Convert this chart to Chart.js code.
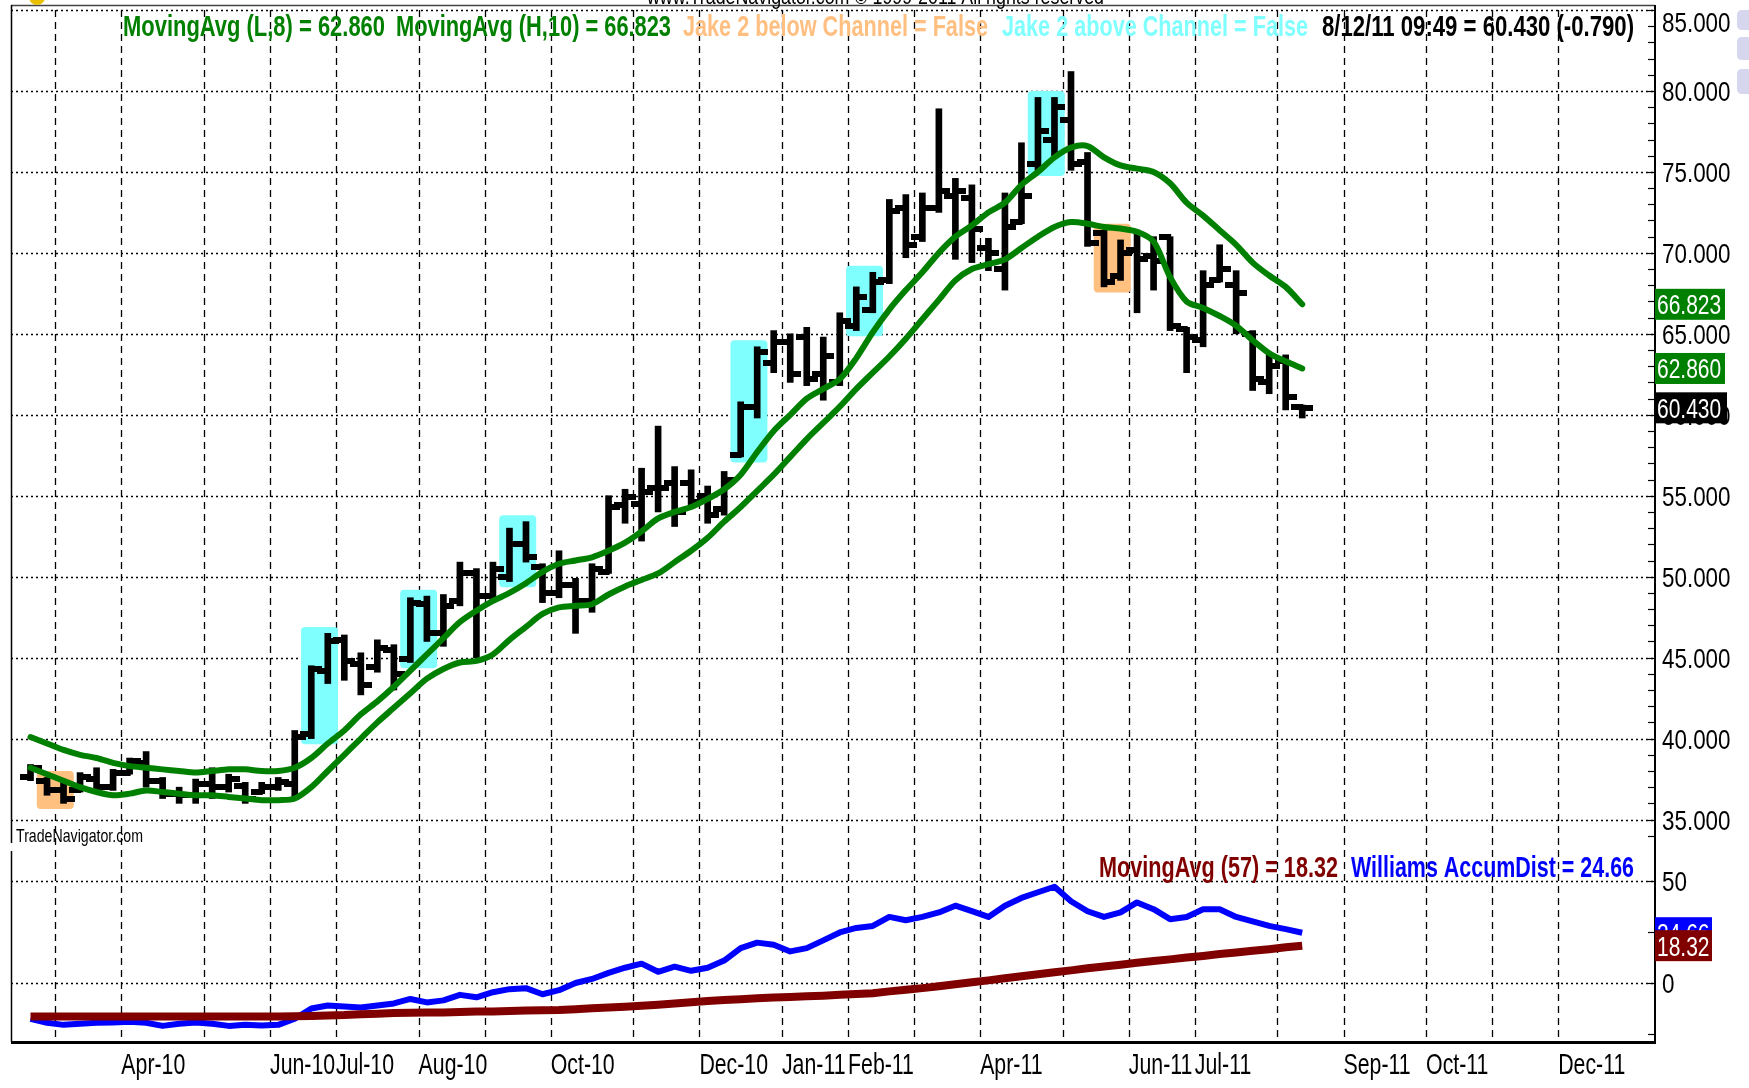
<!DOCTYPE html>
<html><head><meta charset="utf-8">
<script src="https://cdn.jsdelivr.net/npm/chart.js@4/dist/chart.umd.min.js"></script>
<style>html,body{margin:0;padding:0;background:#fff;overflow:hidden}</style>
</head><body>
<canvas id="c" width="1749" height="1088"></canvas>
<script>
// ---- DATA (weekly bars, 19 Feb 2010 .. 12 Aug 2011, x = week index) ----
const opens  = [37.6,37.4,36.8,36.8,37.5,37.0,37.9,38.5,37.4,36.6,36.5,37.2,37.0,37.1,36.7,37.0,37.2,40.3,44.2,46.1,44.6,44.4,45.5,44.9,48.3,46.5,48.5,50.2,48.8,50.0,52.0,50.6,49.0,49.5,48.5,50.3,54.4,54.5,55.5,55.8,55.8,55.0,54.2,57.5,60.5,63.2,64.5,64.8,62.5,62.0,65.5,66.5,68.3,72.8,71.0,72.8,73.5,73.4,70.3,69.0,71.9,75.5,77.0,78.2,75.6,71.2,68.6,70.2,69.8,71.0,65.3,64.6,68.3,68.0,65.0,62.0,63.3,60.5];
const highs  = [38.4,37.6,37.3,37.9,38.2,38.1,38.8,39.2,37.6,37.0,37.5,38.2,37.8,37.3,37.3,37.6,40.5,44.5,46.5,46.4,45.3,46.1,45.8,48.7,48.8,48.9,50.9,50.5,50.9,53.0,53.4,50.8,51.6,49.9,50.8,55.0,55.4,56.7,59.3,56.8,56.6,55.6,56.5,60.8,64.2,65.2,65.0,65.4,64.8,66.3,67.9,68.8,73.3,73.6,73.7,78.9,74.6,74.2,70.9,73.7,76.8,79.6,79.6,81.2,76.2,71.4,70.8,71.4,71.0,71.0,65.4,68.9,70.5,68.9,65.2,63.8,63.7,60.6];
const lows   = [37.4,36.5,36.0,36.7,36.7,36.8,37.8,37.0,36.3,36.0,36.0,36.3,36.7,36.0,36.6,36.8,36.4,40.0,43.4,43.6,42.7,44.1,43.0,44.7,46.0,45.7,48.2,45.0,48.5,49.7,50.9,48.4,48.7,46.5,47.8,50.2,53.3,52.2,54.0,53.1,54.4,53.3,53.8,57.4,59.8,62.6,62.0,61.8,60.9,61.8,65.2,66.3,68.1,69.7,70.7,72.5,69.6,69.4,68.9,67.7,71.8,75.1,76.0,75.1,70.4,67.9,68.3,66.3,67.7,65.2,62.6,64.2,68.2,65.0,61.5,61.3,60.3,59.8];
const closes = [38.2,36.8,36.3,37.6,37.0,37.9,38.6,37.4,36.6,36.5,37.2,37.0,37.5,36.3,37.0,37.3,40.1,44.3,46.0,44.8,43.3,45.6,44.0,48.4,46.5,48.2,50.2,48.8,50.5,52.0,51.2,49.0,49.5,48.5,50.5,54.3,54.9,55.2,55.5,54.0,54.6,53.8,56.0,60.5,63.9,64.5,62.5,62.2,63.6,65.8,67.3,68.2,72.6,70.5,72.8,73.8,73.8,71.5,70.0,71.6,73.5,77.5,79.0,75.5,70.6,68.2,70.0,69.6,69.5,65.5,64.8,68.0,69.0,67.5,62.2,63.0,61.1,60.43];
const maLow8   = [38.2,37.8,37.4,37.0,36.7,36.5,36.6,36.8,36.7,36.6,36.5,36.5,36.4,36.3,36.2,36.2,36.3,37.0,38.0,39.0,40.0,41.0,41.9,42.8,43.7,44.3,44.7,44.8,45.2,46.1,46.9,47.7,48.1,48.2,48.3,48.9,49.4,49.8,50.2,50.9,51.6,52.4,53.4,54.3,55.3,56.3,57.4,58.5,59.5,60.5,61.6,62.6,63.6,64.7,65.9,67.1,68.3,69.0,69.3,69.6,70.3,71.0,71.6,71.9,71.8,71.6,71.5,71.3,70.7,68.5,67.0,66.6,66.1,65.5,64.6,63.8,63.3,62.86];
const maHigh10 = [40.1,39.7,39.3,39.0,38.8,38.5,38.3,38.2,38.1,38.0,37.9,38.0,38.1,38.1,38.0,38.0,38.2,38.8,39.7,40.5,41.5,42.3,43.2,44.2,45.2,46.2,47.2,47.9,48.5,49.0,49.6,50.3,50.8,51.0,51.2,51.6,52.1,52.8,53.6,54.0,54.3,54.8,55.4,56.3,57.7,59.0,60.0,61.0,61.6,62.2,63.5,65.1,66.5,67.7,68.8,70.0,71.0,71.7,72.5,73.1,74.2,75.0,75.9,76.5,76.6,75.9,75.4,75.2,75.0,74.3,73.1,72.3,71.4,70.5,69.4,68.6,67.9,66.823];
const williamsAD = [-17.5,-19.5,-20.5,-20.0,-19.5,-19.3,-19.0,-19.5,-21.0,-20.0,-19.3,-20.0,-21.0,-20.5,-20.8,-20.5,-17.5,-12.5,-11.0,-11.5,-12.0,-11.0,-10.0,-7.8,-9.5,-8.5,-5.8,-7.0,-4.5,-3.0,-2.5,-5.5,-3.5,0.0,2.0,5.0,7.5,9.5,5.5,8.0,6.0,7.5,11.0,17.1,19.8,18.8,15.5,17.1,20.9,24.8,27.0,28.0,32.4,30.8,32.4,34.6,37.9,35.2,32.4,37.9,41.7,44.5,47.2,40.1,35.2,32.4,34.6,39.5,36.2,31.3,32.4,36.2,36.2,32.4,30.2,28.0,26.4,24.66];
const adMA57 = [-16.4,-16.4,-16.4,-16.4,-16.4,-16.4,-16.4,-16.4,-16.4,-16.4,-16.4,-16.4,-16.4,-16.4,-16.4,-16.4,-16.3,-16.1,-15.9,-15.7,-15.3,-15.0,-14.7,-14.6,-14.5,-14.4,-14.2,-14.0,-13.9,-13.7,-13.5,-13.4,-13.2,-12.8,-12.4,-12.0,-11.6,-11.1,-10.6,-10.0,-9.4,-8.8,-8.3,-7.9,-7.5,-7.1,-6.8,-6.5,-6.2,-5.8,-5.4,-5.0,-4.1,-3.3,-2.5,-1.6,-0.6,0.4,1.3,2.3,3.3,4.3,5.3,6.2,7.2,8.1,9.0,9.9,10.8,11.6,12.5,13.3,14.2,15.0,15.8,16.6,17.5,18.32];
const jakeAbove = [17,18,23,24,29,30,43,44,50,51,61,62];
const jakeBelow = [1,2,65,66];
const monthStartBar = [2,6,11,15,19,24,28,32,37,41,46,50,54,58,63,67,71,76,80,85,89,93];
const monthLabels = ['','Apr-10','','Jun-10','Jul-10','Aug-10','','Oct-10','','Dec-10','Jan-11','Feb-11','','Apr-11','','Jun-11','Jul-11','','Sep-11','Oct-11','','Dec-11'];
const priceTicks = [35,40,45,50,55,60,65,70,75,80,85];
const adTicks = [0,50];
const lastStamp = '8/12/11 09:49';
const priceChange = -0.790;

// ---- helpers ----
const FONT = '"Liberation Sans", Arial, sans-serif';
function tickCanvas(side){
  const c=document.createElement('canvas'); c.width=22; c.height=6;
  const g=c.getContext('2d'); g.fillStyle='#000';
  if(side==='L') g.fillRect(0,0,12,6); else g.fillRect(10,0,12,6);
  return c;
}
function sText(ctx,str,x,y,font,color,sx,align){
  ctx.save(); ctx.font=font; ctx.fillStyle=color; ctx.textBaseline='alphabetic';
  ctx.translate(x,y); ctx.scale(sx,1); ctx.textAlign=align||'left'; ctx.fillText(str,0,0); ctx.restore();
}
function fitText(ctx,str,x0,x1,y,font,color){
  ctx.save(); ctx.font=font; const w=ctx.measureText(str).width; ctx.restore();
  sText(ctx,str,x0,y,font,color,(x1-x0)/w,'left');
}
function groups(list){
  const out=[]; let cur=null;
  list.forEach(i=>{ if(cur && i===cur.end+1){cur.end=i;} else {cur={start:i,end:i}; out.push(cur);} });
  return out;
}
function rrect(ctx,x,y,w,h,r){
  ctx.beginPath(); ctx.moveTo(x+r,y); ctx.lineTo(x+w-r,y); ctx.quadraticCurveTo(x+w,y,x+w,y+r);
  ctx.lineTo(x+w,y+h-r); ctx.quadraticCurveTo(x+w,y+h,x+w-r,y+h); ctx.lineTo(x+r,y+h);
  ctx.quadraticCurveTo(x,y+h,x,y+h-r); ctx.lineTo(x,y+r); ctx.quadraticCurveTo(x,y,x+r,y); ctx.closePath();
}
function seg(ctx,x0,y0,x1,y1){ctx.beginPath();ctx.moveTo(x0,y0);ctx.lineTo(x1,y1);ctx.stroke();}

const decor = {
  id:'decor',
  beforeDatasetsDraw(chart){
    const {ctx, chartArea:ca, scales:{x,y,y2}} = chart;
    ctx.save();
    ctx.strokeStyle='#000'; ctx.lineWidth=1.3;
    ctx.setLineDash([2,3]);
    priceTicks.forEach(v=>{const p=Math.round(y.getPixelForValue(v))+0.5; seg(ctx,ca.left,p,ca.right,p);});
    adTicks.forEach(v=>{const p=Math.round(y2.getPixelForValue(v))+0.5; seg(ctx,ca.left,p,ca.right,p);});
    ctx.setLineDash([7,5]);
    monthStartBar.forEach(b=>{const p=Math.round(x.getPixelForValue(b-0.5))+0.5; seg(ctx,p,ca.top,p,ca.bottom);});
    ctx.setLineDash([]);
    const box=(g,col)=>{
      let hi=-1e9, lo=1e9;
      for(let i=g.start;i<=g.end;i++){hi=Math.max(hi,highs[i]); lo=Math.min(lo,lows[i]);}
      const x0=x.getPixelForValue(g.start-0.62), x1=x.getPixelForValue(g.end+0.62);
      const y0=y.getPixelForValue(hi+0.4), y1=y.getPixelForValue(lo-0.35);
      ctx.fillStyle=col; rrect(ctx,x0,y0,x1-x0,y1-y0,4); ctx.fill();
    };
    groups(jakeAbove).forEach(g=>box(g,'#80ffff'));
    groups(jakeBelow).forEach(g=>box(g,'#ffc080'));
    ctx.restore();
  },
  afterDraw(chart){
    const {ctx, chartArea:ca, scales:{x,y,y2}} = chart;
    ctx.save();
    // frame
    ctx.lineWidth=1.5; ctx.strokeStyle='#444'; seg(ctx,ca.left,5.5,ca.right+1,5.5);
    ctx.strokeStyle='#000';
    seg(ctx,ca.left+0.5,5,ca.left+0.5,843); seg(ctx,ca.left+0.5,851,ca.left+0.5,ca.bottom);
    ctx.lineWidth=2; seg(ctx,ca.right+1,5,ca.right+1,ca.bottom+2);
    ctx.lineWidth=3; seg(ctx,ca.left,ca.bottom+0.5,ca.right+2,ca.bottom+0.5);
    // axis minor ticks
    ctx.lineWidth=1.2;
    for(let v=34; v<=85; v++){const p=Math.round(y.getPixelForValue(v))+0.5; seg(ctx,ca.right-6,p,ca.right,p);}
    [-25,0,25,50].forEach(v=>{const p=Math.round(y2.getPixelForValue(v))+0.5; seg(ctx,ca.right-6,p,ca.right,p);});
    // right tick labels
    const axFont='28px '+FONT;
    priceTicks.forEach(v=>{
      let p=y.getPixelForValue(v); if(v===85) p+=12;
      sText(ctx,v.toFixed(3),ca.right+8,p+10,axFont,'#000',0.8);
    });
    adTicks.forEach(v=>{ sText(ctx,String(v),ca.right+8,y2.getPixelForValue(v)+10,axFont,'#000',0.8); });
    // value boxes
    const vbox=(val,txt,bg,scale,w)=>{
      const p=scale.getPixelForValue(val);
      ctx.fillStyle=bg; ctx.fillRect(ca.right+1,p-15.5,w,31);
      sText(ctx,txt,ca.right+3,p+10,'28px '+FONT,'#fff',0.75);
    };
    vbox(maHigh10[maHigh10.length-1],maHigh10[maHigh10.length-1].toFixed(3),'#008000',y,70);
    vbox(maLow8[maLow8.length-1],maLow8[maLow8.length-1].toFixed(3),'#008000',y,70);
    vbox(closes[closes.length-1],closes[closes.length-1].toFixed(3),'#000',y,72);
    vbox(williamsAD[williamsAD.length-1],williamsAD[williamsAD.length-1].toFixed(2),'#0000ff',y2,57);
    vbox(adMA57[adMA57.length-1],adMA57[adMA57.length-1].toFixed(2),'#800000',y2,57);
    // bottom month labels
    monthStartBar.forEach((b,k)=>{
      if(!monthLabels[k]) return;
      sText(ctx,monthLabels[k],x.getPixelForValue(b-0.5),1074,'30px '+FONT,'#000',0.71);
    });
    // legends
    const LF='bold 30px '+FONT;
    const n=closes.length-1;
    fitText(ctx,'MovingAvg (L,8) = '+maLow8[n].toFixed(3),123,385,36,LF,'#008000');
    fitText(ctx,'MovingAvg (H,10) = '+maHigh10[n].toFixed(3),396,671,36,LF,'#008000');
    fitText(ctx,'Jake 2 below Channel = False',683,988,36,LF,'#ffbf80');
    fitText(ctx,'Jake 2 above Channel = False',1002,1308,36,LF,'#80ffff');
    fitText(ctx,lastStamp+' = '+closes[n].toFixed(3)+' ('+priceChange.toFixed(3)+')',1322,1634,36,LF,'#000');
    fitText(ctx,'MovingAvg (57) = '+adMA57[n].toFixed(2),1099,1338,877,LF,'#800000');
    fitText(ctx,'Williams AccumDist = '+williamsAD[n].toFixed(2),1351,1634,877,LF,'#0000ff');
    fitText(ctx,'TradeNavigator.com',16,143,842,'19px '+FONT,'#000');
    // header remnants
    fitText(ctx,'www.TradeNavigator.com \u00a9 1999-2011 All rights reserved',647,1104,4,'22px '+FONT,'#000');
    ctx.fillStyle='#e8c000'; ctx.beginPath(); ctx.arc(37,-3,8,0,Math.PI*2); ctx.fill();
    ctx.fillStyle='#d6d6ee';
    rrect(ctx,1737,10,30,20,5); ctx.fill();
    rrect(ctx,1737,37,30,23,5); ctx.fill();
    rrect(ctx,1737,69,30,25,5); ctx.fill();
    ctx.restore();
  }
};

const xy = arr => arr.map((v,i)=>({x:i,y:v}));
const hidden = {ticks:{display:false}, grid:{display:false}, border:{display:false}};

new Chart(document.getElementById('c'), {
  type:'line',
  data:{datasets:[
    {type:'line',label:'MovingAvg (H,10)',data:xy(maHigh10),yAxisID:'y',borderColor:'#008000',borderWidth:6,pointRadius:0,tension:0.3,borderJoinStyle:'round',borderCapStyle:'round',order:0},
    {type:'line',label:'MovingAvg (L,8)',data:xy(maLow8),yAxisID:'y',borderColor:'#008000',borderWidth:6,pointRadius:0,tension:0.3,borderJoinStyle:'round',borderCapStyle:'round',order:0},
    {type:'scatter',label:'Open',data:xy(opens),yAxisID:'y',pointStyle:tickCanvas('L'),pointRadius:3,order:1},
    {type:'scatter',label:'Close',data:xy(closes),yAxisID:'y',pointStyle:tickCanvas('R'),pointRadius:3,order:1},
    {type:'bar',label:'High-Low',data:highs.map((h,i)=>({x:i,y:[lows[i],h]})),yAxisID:'y',backgroundColor:'#000',barThickness:6,order:2},
    {type:'line',label:'MovingAvg (57)',data:xy(adMA57),yAxisID:'y2',borderColor:'#800000',borderWidth:8,pointRadius:0,tension:0,order:0},
    {type:'line',label:'Williams AccumDist',data:xy(williamsAD),yAxisID:'y2',borderColor:'#0000ff',borderWidth:6,pointRadius:0,tension:0,borderJoinStyle:'round',order:1}
  ]},
  options:{
    responsive:false, animation:false, events:[],
    layout:{padding:{left:11,top:10,right:0,bottom:0}},
    plugins:{legend:{display:false},tooltip:{enabled:false}},
    scales:{
      x:{type:'linear',min:-1.181,max:98.30,offset:false,...hidden,afterFit:s=>{s.height=46;}},
      y:{type:'linear',position:'right',stack:'panels',stackWeight:840,min:33.12,max:85,beginAtZero:false,...hidden,afterFit:s=>{s.width=95;}},
      y2:{type:'linear',position:'right',stack:'panels',stackWeight:192,min:-28.9,max:65.2,beginAtZero:false,...hidden,afterFit:s=>{s.width=95;}}
    }
  },
  plugins:[decor]
});
</script>
</body></html>
